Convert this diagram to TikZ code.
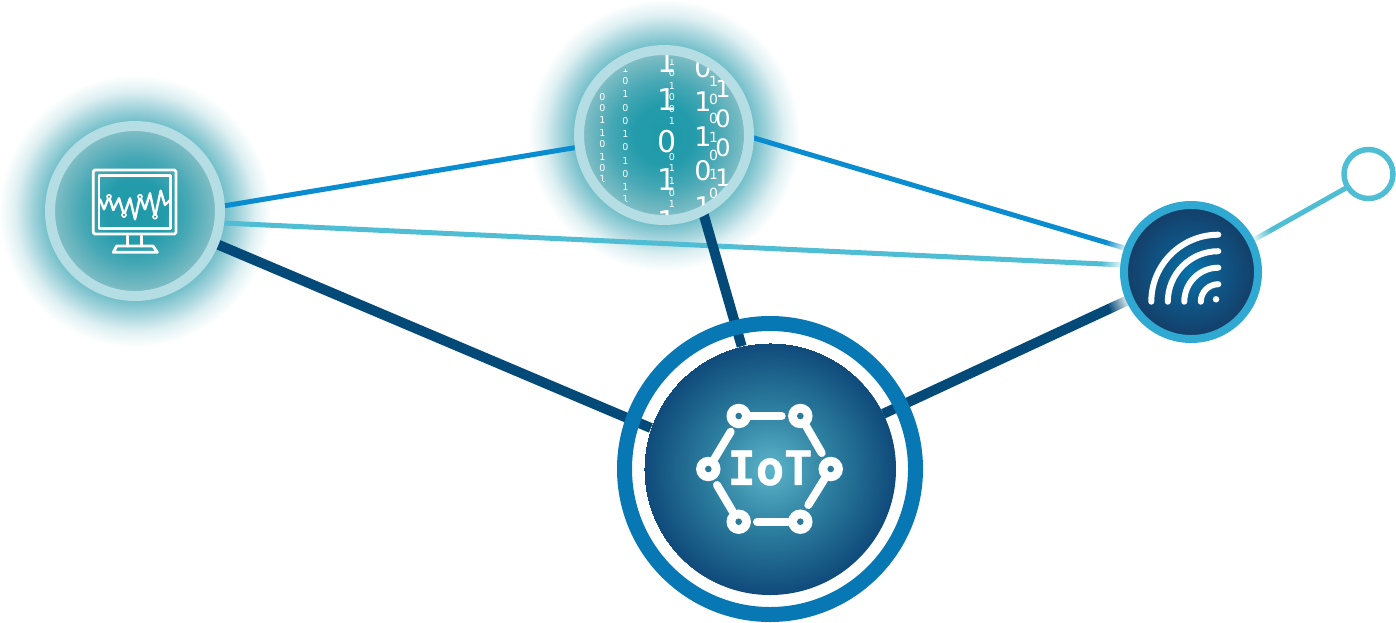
\documentclass[tikz,border=0pt]{standalone}
\usepackage{fontspec}
\setmainfont{DejaVu Sans}
\newfontfamily\iotfont[UprightFont=* Bold,FakeBold=1.1]{DejaVu Sans Mono}
\usetikzlibrary{fadings}
\definecolor{ringlight}{HTML}{B5DDE4}
\definecolor{linkblue}{HTML}{0A8CD0}
\definecolor{linkcyan}{HTML}{4FBDD3}
\definecolor{linkdark}{HTML}{034A78}
\definecolor{iotring}{HTML}{0878B4}
\definecolor{wifiring}{HTML}{2FA8D2}
\definecolor{holeblue}{HTML}{2A7A9C}
\definecolor{dotteal}{HTML}{2A9AA8}
\pgfdeclareradialshading{tealdisc}{\pgfpointorigin}{
  rgb(0bp)=(0.12,0.60,0.66);
  rgb(9bp)=(0.14,0.61,0.67);
  rgb(16bp)=(0.28,0.66,0.71);
  rgb(23.5bp)=(0.49,0.74,0.77);
  rgb(25bp)=(0.49,0.74,0.77)}
\pgfdeclareradialshading{glowdisc}{\pgfpointorigin}{
  rgb(0bp)=(0.40,0.72,0.77);
  rgb(16.5bp)=(0.45,0.75,0.79);
  rgb(19.3bp)=(0.66,0.84,0.87);
  rgb(22bp)=(0.87,0.94,0.95);
  rgb(25bp)=(1,1,1)}
\pgfdeclareradialshading{iotdisc}{\pgfpointorigin}{
  rgb(0bp)=(0.36,0.71,0.79);
  rgb(12.5bp)=(0.17,0.49,0.62);
  rgb(25bp)=(0.06,0.29,0.48)}
\pgfdeclareradialshading{wifidisc}{\pgfpointorigin}{
  rgb(0bp)=(0.03,0.45,0.67);
  rgb(12.5bp)=(0.06,0.33,0.52);
  rgb(25bp)=(0.08,0.24,0.40)}
\pgfdeclareradialshading{halomask}{\pgfpointorigin}{
  rgb(0bp)=(1,1,1);
  rgb(19.5bp)=(0.85,0.85,0.85);
  rgb(25bp)=(0,0,0)}
\pgfdeclarefading{halofade}{\pgfuseshading{halomask}}
\pgfdeclarelayer{back}
\pgfdeclarelayer{mid}
\pgfdeclarelayer{haze}
\pgfsetlayers{back,mid,haze,main}
\tikzset{
  disc/.style={circle,inner sep=0pt,outer sep=0pt},
  glownode/.style={disc,minimum size=272pt,shading=glowdisc},
  tealnode/.style={disc,minimum size=170pt,line width=10pt,draw=ringlight,shading=tealdisc},
  thinlink/.style={line width=5pt},
  thicklink/.style={line width=10pt,linkdark},
  iconline/.style={draw=white,line width=2.8pt,line join=round,line cap=round},
  hexbar/.style={draw=white,line width=8pt,line cap=round},
  hexnode/.style={disc,minimum size=24.5pt,fill=white},
  wifiarc/.style={draw=white,line width=6pt,line cap=round},
  dsmall/.style={text=white,inner sep=0pt,font=\fontsize{9.5}{9.5}\selectfont},
  dmed/.style={text=white,inner sep=0pt,font=\fontsize{14}{14}\selectfont},
  dlarge/.style={text=white,inner sep=0pt,font=\fontsize{24}{24}\selectfont},
  dhuge/.style={text=white,inner sep=0pt,font=\fontsize{30}{30}\selectfont},
  dbig/.style={text=white,inner sep=0pt,font=\fontsize{27}{27}\selectfont},
}
\begin{document}
\begin{tikzpicture}[x=1pt,y=-1pt]
\useasboundingbox (0,0) rectangle (1396,622);
\begin{pgfonlayer}{back}
  \node[glownode] (monglow) at (135,211) {};
  \node[glownode] (topglow) at (664,135) {};
  \node[disc,minimum size=306pt,fill=white] (iotbase) at (770,469) {};
\end{pgfonlayer}
\node[tealnode] (mon) at (135,211) {};
\node[tealnode] (top) at (664,135) {};
\node[disc,minimum size=291pt,line width=15pt,draw=iotring] (iotring) at (770,469) {};
\node[disc,minimum size=252pt,shading=iotdisc] (iot) at (770,469) {};
\node[disc,minimum size=134pt,line width=8pt,draw=wifiring,shading=wifidisc] (wifi) at (1191,272) {};
\node[disc,minimum size=49pt,line width=5.5pt,draw=linkcyan,fill=white] (end) at (1368.5,174) {};
\begin{pgfonlayer}{mid}
  \draw[thinlink,linkblue] (mon.3) -- (top.188);
  \draw[thinlink,linkblue] (top.-1) -- (wifi.160);
  \draw[thinlink,linkcyan] (mon.-8) -- (wifi.174);
  \draw[thinlink,linkcyan] (wifi.27) -- (end.212);
  \draw[thicklink] (mon.-22) -- (iot.161);
  \draw[thicklink] (top.-63) -- (iot.103);
  \draw[thicklink] (iot.26) -- (wifi.204);
\end{pgfonlayer}
\begin{pgfonlayer}{haze}
  \fill[white,path fading=halofade] (wifi.center) circle[radius=90pt];
\end{pgfonlayer}
\begin{scope}
  \clip (top.center) circle[radius=76.5pt];
  \foreach \yy/\dd [count=\n] in {85/1,97/0,108/0,120/1,133/1,144/0,157/1,168/0,179/1}
    \node[dsmall] (a\n) at (602.5,\yy) {\dd};
  \foreach \yy/\dd [count=\n] in {69/1,81/0,94/1,108/0,121/0,134/1,147/0,161/1,174/0,187/1,199/1}
    \node[dsmall] (b\n) at (625.5,\yy) {\dd};
  \foreach \yy/\dd [count=\n] in {62/1,73/0,86/1,97/0,109/0,121/1,157/0,168/1,181/1,193/0,204/1}
    \node[dsmall] (c\n) at (672,\yy) {\dd};
\end{scope}
\begin{scope}
  \clip (top.center) circle[radius=80pt];
  \foreach \yy/\dd [count=\n] in {62/1,100/1,142/0,180/1,222/1}
    \node[dhuge] (e\n) at (667,\yy) {\dd};
  \foreach \yy/\dd [count=\n] in {68/0,102/1,137/1,171/0,207/1}
    \node[dbig] (f\n) at (703,\yy) {\dd};
  \foreach \yy/\dd [count=\n] in {81/1,99/0,118/0,137/1,155/0,174/1,193/0}
    \node[dmed] (g\n) at (713.5,\yy) {\dd};
  \foreach \yy/\dd [count=\n] in {89/1,119/0,148/0,178/1}
    \node[dlarge] (h\n) at (723,\yy) {\dd};
\end{scope}
\draw[iconline,rounded corners=1.5pt] (93.3,170) rectangle (176,234);
\draw[iconline] (99,175.7) rectangle (170.7,228.3);
\draw[iconline] (127.7,236) -- (127.7,246) (141.7,236) -- (141.7,246);
\draw[iconline] (113.3,252.3) -- (116.7,246) -- (153,246) -- (157.3,252.3) -- cycle;
\draw[iconline,line width=2.4pt] (100,199.3) -- (104,209.3) -- (109,196.7) -- (113.3,210) -- (119,198.3) -- (124,215) -- (130,198.3) -- (135,219.3) -- (140,196.7) -- (145,209.3) -- (150,193.3) -- (155,216.7) -- (160.7,190.7) -- (165,205) -- (170,200);
\foreach \xx/\yy [count=\n] in {109/196.7,124/215,140/196.7,155/216.7}
  \node[disc,minimum size=4pt,line width=1.6pt,draw=white,fill=dotteal] (z\n) at (\xx,\yy) {};
\coordinate (wc) at (1218.3,301.7);
\foreach \rr in {67,50.5,34,17.5}
  \draw[wifiarc] ([xshift=-\rr pt]wc) arc[start angle=180,end angle=90,radius=\rr pt];
\node[disc,minimum size=6.5pt,fill=white] (wdot) at (1216,299.3) {};
\node[hexnode] (h1) at (738.7,416) {};
\node[hexnode] (h2) at (800.3,416) {};
\node[hexnode] (h3) at (830.7,469) {};
\node[hexnode] (h4) at (800.3,521.7) {};
\node[hexnode] (h5) at (738.7,521.7) {};
\node[hexnode] (h6) at (708.3,469) {};
\coordinate (b1) at (781.7,416);
\coordinate (b2) at (821.7,453);
\coordinate (b3) at (808.3,505);
\coordinate (b4) at (757,521.7);
\coordinate (b5) at (717,485);
\coordinate (b6) at (730.7,431.7);
\draw[hexbar] (h1) -- (b1);
\draw[hexbar] (h2) -- (b2);
\draw[hexbar] (h3) -- (b3);
\draw[hexbar] (h4) -- (b4);
\draw[hexbar] (h5) -- (b5);
\draw[hexbar] (h6) -- (b6);
\foreach \a in {h1,h2,h3,h4,h5,h6}
  \fill[holeblue] (\a.center) circle[radius=3.3pt];
\node[text=white,inner sep=0pt,font=\iotfont\fontsize{47}{47}\selectfont] (iotlabel) at (770,468) {IoT};
\end{tikzpicture}
\end{document}
